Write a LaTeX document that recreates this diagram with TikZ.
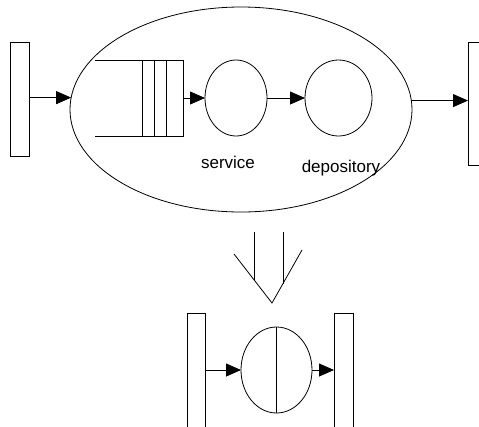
\documentclass[tikz,border=0pt]{standalone}
\usepackage{fontspec}
\setmainfont{Liberation Sans}
\usetikzlibrary{shapes.geometric, arrows.meta}

\begin{document}
\begin{tikzpicture}[
    x=1pt, y=-1pt,
    line width=0.8pt,
    >={Triangle[length=15pt, width=13pt]},
    bar/.style={rectangle, draw, inner sep=0pt, outer sep=0pt, minimum width=19pt},
    circ/.style={ellipse, draw, inner sep=0pt, outer sep=0pt},
    arrow/.style={->},
    label/.style={font=\fontsize{17}{20}\selectfont, anchor=base, inner sep=0pt}
]

% page frame
\clip (0,0) rectangle (479,426);

% --- upper part: queueing system ---
\node[bar, minimum height=114pt] (inbar) at (19.5, 99) {};
\node[bar, minimum height=123pt, minimum width=22pt] (outbar) at (479, 103.5) {};
\node[circ, minimum width=342pt, minimum height=205pt] (sys) at (241, 109.5) {};

% queue buffer
\node[rectangle, draw, inner sep=0pt, outer sep=0pt, minimum width=41pt, minimum height=76pt] (queue) at (162.5, 98) {};
\draw (queue.north west) -- ++(-47, 0);
\draw (queue.south west) -- ++(-47, 0);
\foreach \dx in {12, 24}
    \draw ([xshift=\dx pt]queue.north west) -- ([xshift=\dx pt]queue.south west);

\node[circ, minimum width=62pt, minimum height=76pt] (service) at (236, 98) {};
\node[circ, minimum width=67pt, minimum height=76pt] (depot) at (338.5, 98) {};

\node[label] (servicelabel) at (228, 168) {service};
\node[label] (depotlabel) at (341, 172) {depository};

\draw[arrow] (inbar.east |- sys.176.5) -- (sys.176.5);
\draw[arrow] (queue.east) -- (service.west);
\draw[arrow] (service.east) -- (depot.west);
\draw[arrow] (sys.3.5) -- (sys.3.5 -| outbar.west);

% --- reduction arrow ---
\draw (254, 232) -- (254, 280);
\draw (283, 232) -- (283, 284);
\draw (234, 254) -- (272, 303) -- (302, 250);

% --- lower part: single station ---
\node[bar, minimum height=140pt, minimum width=18pt] (lbar) at (196, 383) {};
\node[bar, minimum height=140pt] (rbar) at (343.5, 383) {};
\node[circ, minimum width=71pt, minimum height=86pt] (station) at (276.5, 370) {};
\draw (station.north) -- (station.south);

\draw[arrow] (lbar.east |- station.center) -- (station.west);
\draw[arrow] (station.east) -- (station.east -| rbar.west);

\end{tikzpicture}
\end{document}
